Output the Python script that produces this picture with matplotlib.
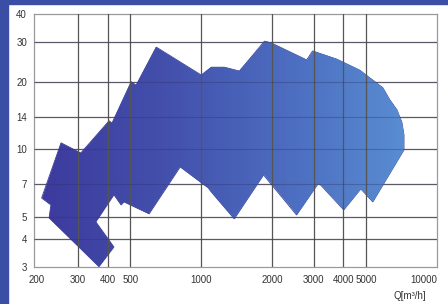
import numpy as np
import matplotlib.pyplot as plt
from matplotlib.patches import Polygon, Rectangle
from matplotlib.colors import LinearSegmentedColormap

# envelope of the pump range, clockwise from the left-most corner
q = [210, 254, 308, 406, 418, 504, 529, 644, 1000, 1103, 1253, 1451, 1854, 1986,
     2799, 2966, 3753, 4700, 5891, 6310, 6761, 7096, 7244, 7244, 5343, 4750, 4022,
     3146, 2536, 1836, 1381, 1103, 1071, 814, 601, 470, 457, 426, 357, 426, 368,
     226, 230]
h = [6.08, 10.7, 9.64, 13.4, 13.1, 20.0, 19.3, 28.5, 21.4, 23.2, 23.2, 22.3, 30.3,
     29.7, 25.0, 27.4, 25.2, 22.5, 18.8, 16.6, 15.0, 13.2, 11.6, 9.95, 5.84, 6.67,
     5.38, 7.10, 5.11, 7.70, 4.91, 6.47, 6.74, 8.36, 5.17, 5.84, 5.66, 6.28, 4.76,
     3.68, 3.01, 4.96, 5.66]

xticks = [200, 300, 400, 500, 1000, 2000, 3000, 4000, 5000, 10000]
xgrid = [300, 400, 500, 1000, 2000, 3000, 4000, 5000]
yticks = [3, 4, 5, 7, 10, 14, 20, 30, 40]

plt.rcParams['font.family'] = ['Liberation Sans Narrow', 'Liberation Sans', 'DejaVu Sans']

fig = plt.figure(figsize=(4.48, 3.04), dpi=100)
fig.patch.set_facecolor('white')
fig.patches.append(Rectangle((0, 0), 8 / 448, 1, transform=fig.transFigure,
                             color='#3a4ea6', zorder=0))
fig.patches.append(Rectangle((0, 1 - 4 / 304), 1, 4 / 304, transform=fig.transFigure,
                             color='#3a4ea6', zorder=0))

ax = fig.add_axes([34 / 448, 1 - 267 / 304, 403 / 448, 253 / 304])
ax.set_xscale('log')
ax.set_yscale('log')
ax.set_xlim(195, 10000)
ax.set_ylim(3, 40)

for x in xgrid:
    ax.axvline(x, color='#555555', lw=0.9, zorder=3)
for y in yticks[1:-1]:
    ax.axhline(y, color='#707070', lw=0.9, zorder=1)
    ax.axhline(y, color='#303060', lw=0.8, alpha=0.35, zorder=3)

poly = Polygon(np.column_stack([q, h]), closed=True, facecolor='none',
               edgecolor='#3a3f90', lw=0.6, zorder=2)
ax.add_patch(poly)

cmap = LinearSegmentedColormap.from_list('env', ['#3c399c', '#4350ac', '#4d70c2', '#5c95d6'])
gx = np.logspace(np.log10(195), np.log10(10000), 300)
gy = np.array([3, 40])
c = np.tile(np.linspace(0, 1, len(gx) - 1), (1, 1))
mesh = ax.pcolormesh(gx, gy, c, cmap=cmap, shading='flat', zorder=2)
mesh.set_clip_path(poly)

ax.set_xticks(xticks)
ax.set_xticklabels([str(v) for v in xticks])
ax.get_xticklabels()[-1].set_horizontalalignment('right')
ax.set_yticks(yticks)
ax.set_yticklabels([str(v) for v in yticks])
ax.minorticks_off()
ax.tick_params(length=0, labelsize=7, colors='#333333', pad=6)
ax.tick_params(axis='y', pad=5)
for s in ax.spines.values():
    s.set_color('#9a9a9a')
    s.set_linewidth(0.9)

fig.text(410 / 448, 1 - 296 / 304, 'Q[m³/h]', fontsize=7, color='#333333',
         ha='center', va='center')

fig.savefig('out.png', dpi=100)
